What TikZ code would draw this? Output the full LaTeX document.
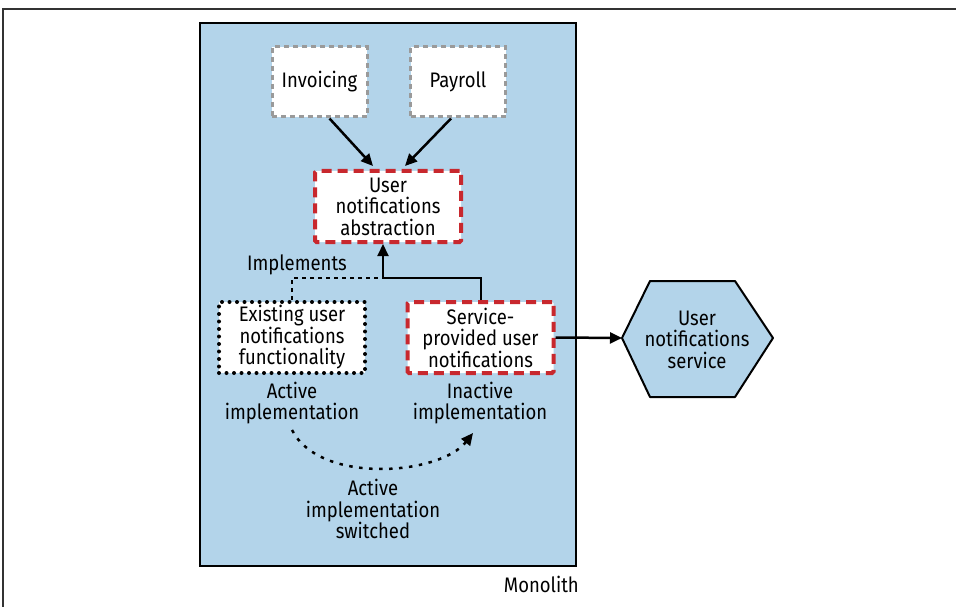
\documentclass[tikz,border=0pt]{standalone}
\usepackage{fontspec}
\setmainfont{Fira Sans}[FakeStretch=0.88]
\usetikzlibrary{arrows.meta,shapes.geometric}
\definecolor{mono}{HTML}{B3D4EA}
\definecolor{redd}{HTML}{C8282E}
\definecolor{grayd}{HTML}{9A9A9A}
\tikzset{
  txt/.style={font=\fontsize{21}{21.5}\selectfont},
  lbl/.style={txt, align=center, inner sep=0pt},
  graybox/.style={txt, draw=grayd, fill=white, line width=3pt, dash pattern=on 5pt off 4pt, minimum width=95pt, minimum height=70pt, inner sep=0pt},
  redbox/.style={txt, draw=redd, fill=white, line width=4pt, dash pattern=on 10pt off 6pt, minimum width=146pt, minimum height=71pt, inner sep=0pt, align=center, rounded corners=1.5pt},
  dotbox/.style={txt, draw=black, fill=white, line width=4pt, dash pattern=on 0pt off 7.5pt, line cap=round, minimum width=146pt, minimum height=71pt, inner sep=0pt, align=center},
  arr/.style={-{Triangle[length=12pt,width=11pt]}, line width=2.5pt},
}
\begin{document}
\begin{tikzpicture}[x=1pt,y=-1pt]
\useasboundingbox (0,0) rectangle (956,607);
% outer frame
\draw[line width=2pt, black!80] (3,607) -- (3,9) -- (956,9);
% monolith
\node[draw=black, fill=mono, line width=2pt, minimum width=376pt, minimum height=543pt, inner sep=0pt] (mono) at (388,294.5) {};
\node[lbl, anchor=east] (monolbl) at (579,584) {Monolith};
% boxes
\node[graybox] (inv) at (319.5,82) {Invoicing};
\node[graybox] (pay) at (458,82) {Payroll};
\node[redbox] (abs) at (388,206.5) {User\\notifications\\abstraction};
\node[dotbox] (exist) at (292,337.5) {Existing user\\notifications\\functionality};
\node[redbox] (serv) at (480.5,337.5) {Service-\\provided user\\notifications};
% hexagon
\coordinate (hexW) at (622,338);
\draw[fill=mono, line width=2pt, line join=round] (hexW) -- (650,281) -- (735,281) -- (773,338) -- (735,397) -- (650,397) -- cycle;
\node[lbl] (hexlbl) at (697,339.5) {User\\notifications\\service};
% labels
\node[lbl] (impl) at (297,265) {Implements};
\node[lbl] (act) at (292,403) {Active\\implementation};
\node[lbl] (inact) at (480,403) {Inactive\\implementation};
\node[lbl] (sw) at (373,509) {Active\\implementation\\switched};
% connectors
\draw[arr] (inv.south) ++(10,0) coordinate (i1) -- (373,166) coordinate (i2);
\draw[arr] (pay.south) ++(-7,0) coordinate (p1) -- (405,166) coordinate (p2);
\coordinate (j) at (383,278);
\draw[arr, line width=2pt] (serv.north) |- (j) -- (abs.south -| j);
\draw[line width=2pt, dash pattern=on 4pt off 4pt] (exist.north) |- (j);
\draw[arr] (serv.east) -- (hexW);
\coordinate (c1) at (292,430);
\coordinate (c2) at (473,433);
\draw[line width=2.5pt, dash pattern=on 3.5pt off 6.5pt, -{Triangle[length=12pt,width=11pt]}] (c1) .. controls (320,485) and (440,475) .. (c2);
\end{tikzpicture}
\end{document}
